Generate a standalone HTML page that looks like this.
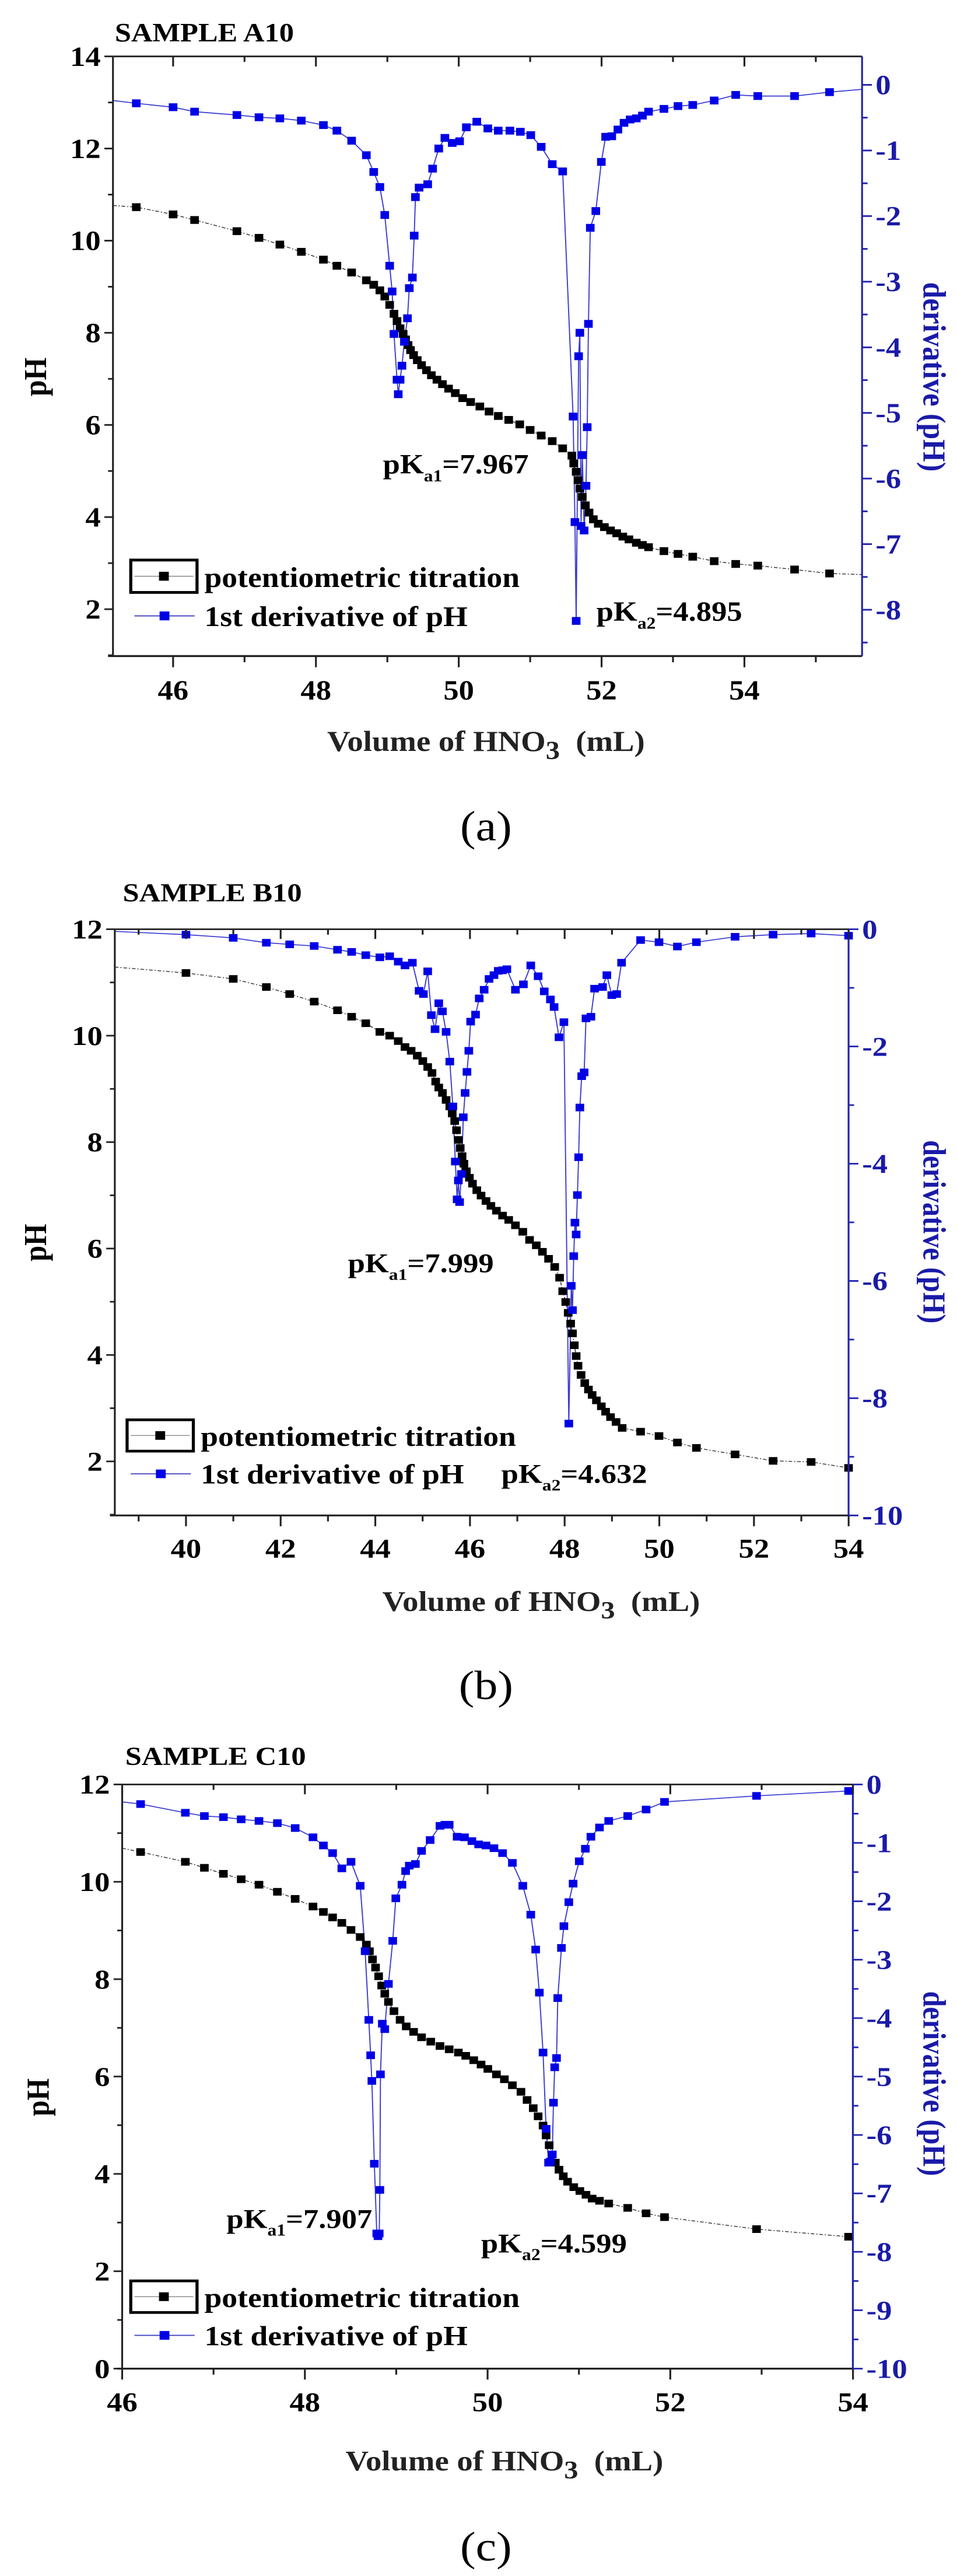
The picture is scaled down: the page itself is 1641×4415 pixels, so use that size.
<!DOCTYPE html>
<html><head><meta charset="utf-8"><style>
html,body{margin:0;padding:0;background:#fff;}
svg{display:block;}
text{font-family:"Liberation Serif",serif;}
</style></head><body>
<svg id="s" width="1641" height="4415" viewBox="0 0 1641 4415" xmlns="http://www.w3.org/2000/svg"></svg>
<script>
const NS="http://www.w3.org/2000/svg";
const S=document.getElementById('s');
function el(p,t,a,txt){const e=document.createElementNS(NS,t);for(const k in a)e.setAttribute(k,a[k]);if(txt!==undefined)e.textContent=txt;p.appendChild(e);return e;}
function pts(a){return a.map(p=>p[0]+','+p[1]).join(' ');}
function panel(c){
 const g=el(S,'g',{transform:`translate(-3,${c.oy}) scale(1.052,${c.sy})`});
 const L=c.L,R=c.R,T=c.T,B=c.B;
 el(g,'polyline',{points:pts([c.bl0].concat(c.black,[c.bl1])),fill:'none',stroke:'#333','stroke-width':1.5,'stroke-dasharray':'6,3,2,3'});
 el(g,'polyline',{points:pts([c.bu0].concat(c.blue,[c.bu1])),fill:'none',stroke:'#3a3ad0','stroke-width':1.8});
 c.black.forEach(p=>el(g,'rect',{x:p[0]-7,y:p[1]-7,width:14,height:14,fill:'#000'}));
 c.blue.forEach(p=>el(g,'rect',{x:p[0]-7,y:p[1]-7,width:14,height:14,fill:'#0000e6'}));
 el(g,'line',{x1:L,y1:T,x2:R,y2:T,stroke:'#222','stroke-width':3});
 el(g,'line',{x1:L-8,y1:B,x2:R,y2:B,stroke:'#222','stroke-width':3.5});
 el(g,'line',{x1:L,y1:T,x2:L,y2:B,stroke:'#222','stroke-width':3});
 el(g,'line',{x1:R,y1:T,x2:R,y2:B,stroke:'#2222b0','stroke-width':3});
 const xs=c.xt;
 for(let i=0;i<xs.v.length;i++){const x=xs.p0+i*xs.d;
  el(g,'line',{x1:x,y1:B,x2:x,y2:B+20,stroke:'#222','stroke-width':3});
  el(g,'line',{x1:x,y1:T,x2:x,y2:T+18,stroke:'#222','stroke-width':3});
  el(g,'text',{x:x,y:B+78,'text-anchor':'middle','font-size':50,'font-weight':'bold'},xs.v[i]);}
 for(let x=xs.p0-xs.d/2;x<R;x+=xs.d){if(x<=L)continue;
  el(g,'line',{x1:x,y1:B,x2:x,y2:B+11,stroke:'#222','stroke-width':3});
  el(g,'line',{x1:x,y1:T,x2:x,y2:T+10,stroke:'#222','stroke-width':3});}
 const ys=c.yt;
 for(let i=0;i<ys.v.length;i++){const y=ys.p0+i*ys.d;
  el(g,'line',{x1:L-14,y1:y,x2:L,y2:y,stroke:'#222','stroke-width':3});
  el(g,'text',{x:L-20,y:y+17,'text-anchor':'end','font-size':50,'font-weight':'bold'},ys.v[i]);}
 for(let y=ys.p0+ys.d/2;y<B;y+=ys.d)el(g,'line',{x1:L-8,y1:y,x2:L,y2:y,stroke:'#222','stroke-width':3});
 const rs=c.rt;
 for(let i=0;i<rs.v.length;i++){const y=rs.p0+i*rs.d;
  el(g,'line',{x1:R,y1:y,x2:R+16,y2:y,stroke:'#2222b0','stroke-width':3});
  el(g,'text',{x:R+22,y:y+17,'font-size':50,'font-weight':'bold',fill:'#1a1aa8'},rs.v[i]);}
 for(let y=rs.p0+rs.d/2;y<B;y+=rs.d)el(g,'line',{x1:R,y1:y,x2:R+9,y2:y,stroke:'#2222b0','stroke-width':3});
 el(g,'text',{x:c.tx,y:c.ty,'font-size':48,'font-weight':'bold'},c.title);
 el(g,'text',{transform:`translate(${c.yl[0]},${c.yl[1]}) rotate(-90)`,'text-anchor':'middle','font-size':52,'font-weight':'bold'},'pH');
 el(g,'text',{transform:`translate(${c.rl[0]},${c.rl[1]}) rotate(90)`,'text-anchor':'middle','font-size':52,'font-weight':'bold',fill:'#1a1aa8'},'derivative (pH)');
 const xt=el(g,'text',{x:c.xl[0],y:c.xl[1],'text-anchor':'middle','font-size':52,'font-weight':'bold',fill:'#222'});
 xt.innerHTML='Volume of HNO<tspan dy="14" font-size="46">3</tspan><tspan dy="-14">\u00a0\u00a0(mL)</tspan>';
 function pk(x,y,sub,val){const t=el(g,'text',{x:x,y:y,'font-size':50,'font-weight':'bold'});
  t.innerHTML=`pK<tspan dy="14" font-size="30">${sub}</tspan><tspan dy="-14">=${val}</tspan>`;}
 pk(c.p1[0],c.p1[1],'a1',c.p1[2]);pk(c.p2[0],c.p2[1],'a2',c.p2[2]);
 const lg=c.lg;
 el(g,'rect',{x:lg[0],y:lg[1],width:108,height:58,fill:'none',stroke:'#000','stroke-width':5});
 el(g,'line',{x1:lg[0]+6,y1:lg[1]+29,x2:lg[0]+102,y2:lg[1]+29,stroke:'#888','stroke-width':1.5});
 el(g,'rect',{x:lg[0]+46,y:lg[1]+21,width:16,height:16,fill:'#000'});
 el(g,'text',{x:lg[0]+120,y:lg[1]+48,'font-size':51,'font-weight':'bold'},'potentiometric titration');
 el(g,'line',{x1:lg[0]+6,y1:lg[1]+100,x2:lg[0]+104,y2:lg[1]+100,stroke:'#4040c0','stroke-width':2});
 el(g,'rect',{x:lg[0]+47,y:lg[1]+92,width:16,height:16,fill:'#0000e6'});
 el(g,'text',{x:lg[0]+120,y:lg[1]+118,'font-size':51,'font-weight':'bold'},'1st derivative of pH');
 el(g,'text',{x:c.lab[0],y:c.lab[1],'text-anchor':'middle','font-size':76},c.lab[2]);
}
panel({oy:0,sy:0.957,L:187,R:1408,T:101,B:1175,
 xt:{p0:285,d:116.4*2,v:['46','48','50','52','54']},
 yt:{p0:101,d:82.5*2,v:['14','12','10','8','6','4','2']},
 rt:{p0:152,d:117.5,v:['0','-1','-2','-3','-4','-5','-6','-7','-8']},
 title:'SAMPLE A10',tx:190,ty:74,yl:[78,675],rl:[1508,675],xl:[795,1345],
 p1:[627,848,'7.967'],p2:[975,1112,'4.895'],lg:[216,1003],lab:[795,1505,'(a)'],
 bl0:[187,368],bl1:[1408,1029],bu0:[187,180],bu1:[1408,160],
 black:[[225,371],[285,384],[320,394],[389,414],[425,426],[459,438],[494,451],[530,465],[552,476],[576,488],[600,502],[612,510],[622,520],[630,531],[638,546],[645,562],[650,575],[655,588],[660,598],[664,608],[668,618],[672,627],[677,636],[683,645],[690,654],[698,663],[706,672],[715,680],[724,688],[734,696],[745,704],[757,713],[770,720],[785,728],[800,737],[815,745],[832,752],[850,760],[867,770],[885,780],[903,790],[920,803],[935,816],[938,830],[942,845],[945,860],[948,875],[952,890],[957,905],[963,918],[970,930],[978,938],[988,944],[998,950],[1008,955],[1018,961],[1028,966],[1040,972],[1050,976],[1060,980],[1085,987],[1108,992],[1132,997],[1167,1005],[1202,1010],[1238,1013],[1298,1020],[1355,1027]],
 blue:[[225,185],[285,192],[320,200],[389,206],[425,210],[459,212],[494,216],[530,224],[552,234],[576,252],[600,278],[612,308],[622,335],[630,385],[638,476],[642,522],[645,598],[650,680],[652,706],[655,680],[658,655],[662,612],[667,570],[670,516],[675,497],[678,422],[680,353],[686,336],[700,330],[708,302],[718,266],[728,247],[740,256],[752,253],[763,228],[780,218],[798,230],[815,234],[834,234],[851,236],[868,242],[885,263],[903,294],[920,307],[937,746],[940,935],[942,1112],[946,638],[948,596],[950,942],[952,815],[955,950],[958,870],[960,765],[962,580],[965,408],[974,378],[983,290],[990,245],[1000,244],[1010,232],[1020,220],[1030,214],[1040,212],[1050,207],[1060,200],[1085,195],[1108,190],[1132,188],[1167,180],[1202,170],[1238,172],[1298,172],[1355,165]]});
panel({oy:1500,sy:0.926,L:190,R:1386,T:100,B:1185,
 xt:{p0:306,d:154.3,v:['40','42','44','46','48','50','52','54']},
 yt:{p0:100,d:98.5*2,v:['12','10','8','6','4','2']},
 rt:{p0:100,d:217,v:['0','-2','-4','-6','-8','-10']},
 title:'SAMPLE B10',tx:203,ty:48,yl:[78,680],rl:[1508,660],xl:[885,1362],
 p1:[570,735,'7.999'],p2:[820,1125,'4.632'],lg:[210,1008],lab:[795,1525,'(b)'],
 bl0:[190,170],bl1:[1386,1097],bu0:[190,104],bu1:[1386,112],
 black:[[306,181],[383,192],[437,207],[475,220],[515,234],[553,250],[576,262],[599,274],[622,290],[638,297],[652,307],[663,318],[673,325],[683,334],[692,344],[700,355],[707,366],[713,382],[718,393],[724,403],[730,416],[736,428],[740,441],[744,455],[747,472],[750,490],[753,505],[756,520],[759,534],[763,548],[768,560],[773,571],[780,583],[787,593],[795,603],[803,612],[812,621],[822,630],[832,638],[843,648],[855,660],[866,675],[877,685],[887,697],[897,710],[907,725],[915,745],[920,770],[925,790],[929,810],[933,830],[936,848],[939,870],[942,890],[945,908],[950,925],[956,940],[962,952],[968,962],[975,972],[983,983],[990,993],[998,1003],[1007,1012],[1017,1023],[1047,1030],[1077,1038],[1107,1050],[1138,1060],[1201,1072],[1263,1084],[1325,1086],[1386,1097]],
 blue:[[306,110],[383,116],[437,125],[475,128],[515,131],[553,138],[576,142],[599,148],[622,152],[638,150],[652,160],[663,167],[675,162],[686,214],[693,220],[700,178],[706,259],[712,285],[718,237],[724,252],[730,290],[736,345],[741,428],[745,530],[748,600],[750,565],[752,605],[755,553],[758,448],[761,403],[764,364],[767,325],[770,271],[778,258],[784,228],[792,212],[800,192],[808,185],[815,177],[822,176],[829,174],[843,212],[856,202],[868,167],[880,187],[890,215],[900,230],[906,244],[914,300],[922,272],[930,1015],[934,760],[936,805],[938,705],[940,643],[942,665],[944,592],[946,522],[948,430],[951,372],[955,365],[958,265],[966,262],[972,210],[985,207],[992,185],[1000,222],[1008,220],[1016,162],[1047,120],[1077,124],[1107,132],[1138,124],[1201,114],[1263,110],[1325,108],[1386,112]]});
panel({oy:2950,sy:0.934,L:202,R:1393,T:116,B:1188,
 xt:{p0:202,d:297.8,v:['46','48','50','52','54']},
 yt:{p0:116,d:89.33*2,v:['12','10','8','6','4','2','0']},
 rt:{p0:116,d:107.2,v:['0','-1','-2','-3','-4','-5','-6','-7','-8','-9','-10']},
 title:'SAMPLE C10',tx:207,ty:80,yl:[82,690],rl:[1508,665],xl:[825,1375],
 p1:[372,930,'7.907'],p2:[787,975,'4.599'],lg:[216,1027],lab:[795,1540,'(c)'],
 bl0:[202,233],bl1:[1393,948],bu0:[202,148],bu1:[1393,128],
 black:[[232,240],[305,258],[336,269],[367,280],[396,290],[425,300],[455,313],[484,326],[513,340],[530,350],[545,360],[560,370],[575,383],[590,396],[600,410],[605,422],[610,437],[615,452],[620,468],[625,485],[630,500],[636,515],[645,532],[655,548],[665,560],[677,570],[690,580],[705,588],[720,596],[735,602],[750,608],[762,614],[775,622],[787,630],[798,638],[812,648],[825,657],[838,668],[852,680],[862,695],[872,710],[880,725],[888,742],[893,760],[898,778],[903,795],[908,810],[914,823],[921,835],[928,845],[938,855],[948,862],[958,869],[968,876],[980,880],[995,885],[1026,893],[1056,903],[1086,910],[1236,932],[1386,946]],
 blue:[[232,152],[305,168],[336,174],[367,176],[396,180],[425,183],[455,187],[484,196],[513,213],[530,228],[545,242],[560,270],[575,258],[590,302],[598,422],[604,548],[607,613],[609,660],[613,812],[617,940],[619,945],[621,940],[622,860],[623,648],[626,555],[630,565],[636,482],[643,403],[648,325],[658,300],[664,275],[670,265],[680,262],[690,238],[704,218],[720,192],[728,190],[735,190],[748,212],[760,213],[772,220],[783,226],[795,228],[808,233],[822,242],[838,260],[855,302],[868,355],[876,419],[882,498],[888,608],[893,748],[897,810],[900,808],[903,795],[905,700],[907,635],[910,618],[912,508],[918,416],[922,376],[930,332],[937,298],[947,257],[957,234],[966,212],[980,195],[995,183],[1026,174],[1056,162],[1086,148],[1236,137],[1386,128]]});
</script>
</body></html>
